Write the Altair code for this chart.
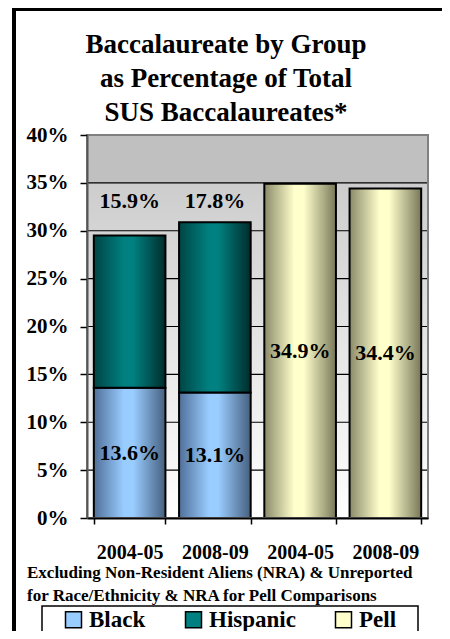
import altair as alt
import pandas as pd

# ---- data ----
years = ["2004-05", "2008-09"]
black = [13.6, 13.1]
hispanic = [15.9, 17.8]
pell = [34.9, 34.4]
series = ["Black", "Hispanic", "Pell"]
series_colors = ["#99CCFF", "#008080", "#FFFFCC"]
y_ticks = [0, 5, 10, 15, 20, 25, 30, 35, 40]
grid_ticks = [5, 10, 15, 20, 25, 30, 35]
title_lines = ["Baccalaureate by Group", "as  Percentage of Total", "SUS Baccalaureates*"]
note_lines = ["Excluding Non-Resident Aliens (NRA) & Unreported",
              "for Race/Ethnicity & NRA for Pell Comparisons"]

bars = ["R " + y for y in years] + ["P " + y for y in years]

rows = []
for i, yr in enumerate(years):
    k = "R " + yr
    rows.append(dict(bar=k, series="Black", start=0.0, end=black[i], value=black[i]))
    rows.append(dict(bar=k, series="Hispanic", start=black[i], end=black[i] + hispanic[i], value=hispanic[i]))
for i, yr in enumerate(years):
    k = "P " + yr
    rows.append(dict(bar=k, series="Pell", start=0.0, end=pell[i], value=pell[i]))
df = pd.DataFrame(rows)
df["mid"] = (df["start"] + df["end"]) / 2
df["label"] = df["value"].map(lambda v: f"{v:.1f}%")

FONT = "'Liberation Serif', 'DejaVu Serif', serif"
W, H = 341, 383

y_scale = alt.Scale(domain=[0, 40], nice=False, zero=True)
y_axis = alt.Axis(values=y_ticks, labelExpr="datum.value + '%'", grid=False,
                  labelFont=FONT, labelFontSize=21, labelFontWeight="bold", labelColor="black",
                  labelPadding=12, tickSize=7, tickColor="black", tickWidth=1.5,
                  domainColor="#555555", domainWidth=2, zindex=1)
x_scale = alt.Scale(domain=bars, paddingInner=0.16, paddingOuter=0.08)
x_axis = alt.Axis(labelExpr="slice(datum.label, 2)", tickBand="extent", labelAngle=0,
                  labelFont=FONT, labelFontSize=20, labelFontWeight="bold", labelColor="black",
                  labelPadding=18, tickSize=6, tickColor="black", tickWidth=1.5,
                  domainColor="black", domainWidth=2, grid=False, zindex=1)

x_enc = alt.X("bar:N", scale=x_scale, axis=x_axis, title=None)


def hgrad(left, center, right):
    return alt.LinearGradient(gradient="linear", x1=0, x2=1, y1=0, y2=0, stops=[
        alt.GradientStop(color=left, offset=0),
        alt.GradientStop(color=center, offset=0.42),
        alt.GradientStop(color=center, offset=0.55),
        alt.GradientStop(color=right, offset=1)])


bar_fills = {
    "Black": hgrad("#50709A", "#99CCFF", "#46607F"),
    "Hispanic": hgrad("#004545", "#008080", "#002C2C"),
    "Pell": hgrad("#8A8A6A", "#FFFFCC", "#78785A"),
}

one = alt.Data(values=[{}])

# plot background (gray band at top, gradient below)
bg = alt.Chart(one).mark_rect(fill=alt.LinearGradient(
    gradient="linear", x1=0, x2=0, y1=0, y2=1, stops=[
        alt.GradientStop(color="#C0C0C0", offset=0),
        alt.GradientStop(color="#C0C0C0", offset=0.125),
        alt.GradientStop(color="#CDCDCD", offset=0.126),
        alt.GradientStop(color="#FFFFFF", offset=1)])).encode(
    x=alt.value(0), x2=alt.value("width"),
    y=alt.YDatum(40, type="quantitative", scale=y_scale, axis=y_axis, title=None),
    y2=alt.Y2Datum(0))

grid = alt.Chart(pd.DataFrame({"t": grid_ticks})).mark_rule(color="black", strokeWidth=1.2).encode(
    y=alt.Y("t:Q", scale=y_scale, axis=y_axis, title=None),
    x=alt.value(0), x2=alt.value("width"))

base = alt.Chart(df)

flat = base.mark_bar().encode(
    x=x_enc,
    y=alt.Y("start:Q", scale=y_scale, axis=y_axis, title=None),
    y2="end:Q",
    color=alt.Color("series:N", scale=alt.Scale(domain=series, range=series_colors),
                    legend=alt.Legend(orient="none", legendX=-25, legendY=473, direction="horizontal",
                                      title=None, symbolType="square", symbolSize=256,
                                      symbolStrokeColor="black", symbolStrokeWidth=1.5,
                                      labelFont=FONT, labelFontSize=23, labelFontWeight="bold",
                                      labelColor="black", columnPadding=36, labelOffset=4,
                                      padding=0, symbolOpacity=1)))

grad_layers = []
for s in series:
    grad_layers.append(base.transform_filter(alt.datum.series == s).mark_bar(
        fill=bar_fills[s], stroke="black", strokeWidth=2).encode(
        x=x_enc,
        y=alt.Y("start:Q", scale=y_scale, axis=y_axis, title=None),
        y2="end:Q"))

border = alt.Chart(one).mark_rect(fillOpacity=0, stroke="#808080", strokeWidth=2).encode(
    x=alt.value(0), x2=alt.value("width"), y=alt.value(0), y2=alt.value("height"))

txt = dict(font=FONT, fontSize=22, fontWeight="bold", color="black", baseline="middle")
lbl_mid = base.transform_filter(alt.datum.series != "Hispanic").mark_text(**txt).encode(
    x=x_enc, y=alt.Y("mid:Q", scale=y_scale, axis=y_axis, title=None), text="label:N")
lbl_hisp = base.transform_filter(alt.datum.series == "Hispanic").mark_text(**txt).encode(
    x=x_enc, y=alt.YDatum(33.1, type="quantitative", scale=y_scale, axis=y_axis, title=None),
    text="label:N")

title = alt.Chart(one).mark_text(text=title_lines, font=FONT, fontSize=27, fontWeight="bold",
                                 color="black", align="center", baseline="alphabetic",
                                 lineHeight=34).encode(x=alt.value(139), y=alt.value(-82))

note = alt.Chart(one).mark_text(text=note_lines, font=FONT, fontSize=17, fontWeight="bold",
                                color="black", align="left", baseline="middle",
                                lineHeight=23).encode(x=alt.value(-60), y=alt.value(438))

legend_box = alt.Chart(one).mark_rect(fillOpacity=0, stroke="black", strokeWidth=1.5).encode(
    x=alt.value(-45), x2=alt.value(331), y=alt.value(471), y2=alt.value(530))

frame_left = alt.Chart(one).mark_rule(color="black", strokeWidth=4).encode(
    x=alt.value(-73), y=alt.value(-127), y2=alt.value(510))
frame_top = alt.Chart(one).mark_rule(color="black", strokeWidth=3).encode(
    x=alt.value(-75), x2=alt.value(363), y=alt.value(-125.5))

chart = alt.layer(
    bg, grid, flat, *grad_layers, border, lbl_mid, lbl_hisp,
    title, note, legend_box, frame_left, frame_top
).properties(
    width=W, height=H,
    autosize=alt.AutoSizeParams(type="none"),
    padding={"left": 79, "top": 127, "right": 14, "bottom": 113},
    background="white",
).configure_view(stroke=None)

chart.save("out.html", embed_options={"renderer": "svg", "actions": False})
